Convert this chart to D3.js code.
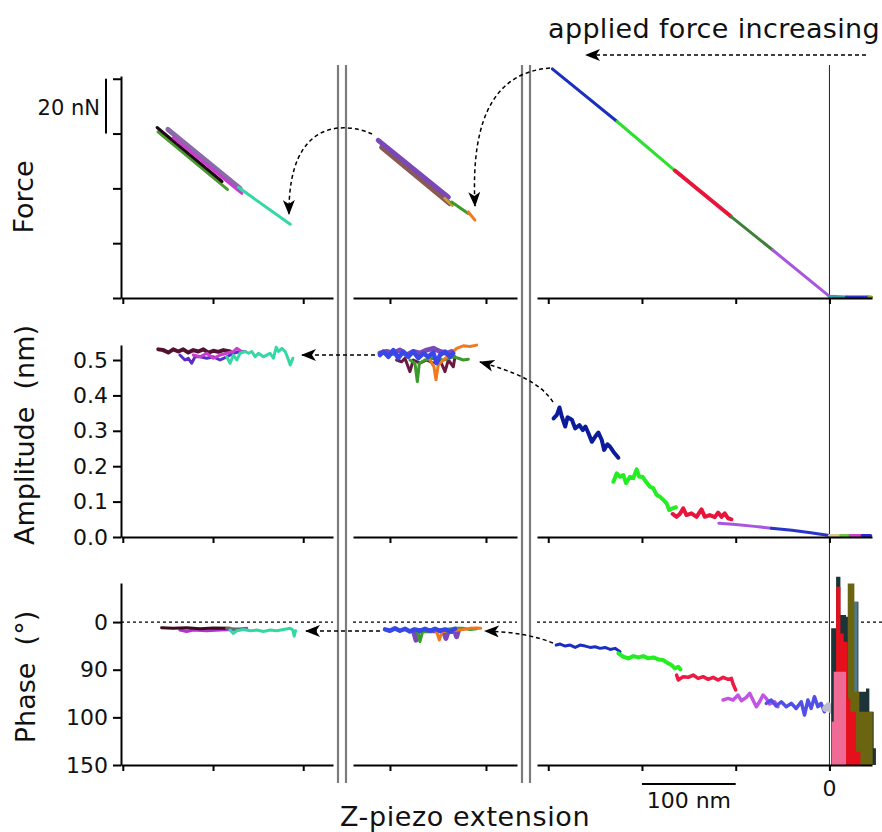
<!DOCTYPE html>
<html>
<head>
<meta charset="utf-8">
<title>Force, amplitude and phase vs Z-piezo extension</title>
<script src="https://cdn.jsdelivr.net/npm/d3@7/dist/d3.min.js"></script>
<style>
  body { margin: 0; background: #fff; }
  svg text { font-family: "DejaVu Sans", sans-serif; fill: #111; }
</style>
</head>
<body>
<svg id="mainsvg" width="882" height="832"></svg>
<script>
// ---------- data : x = Z-piezo extension (nm), three broken-axis panels ----------
const xTicksL = [-2000, -1900, -1800];
const xTicksM = [-1300, -1200];
const xTicksR = [-300, -200, -100, 0];

const forceTicks = [0, 20, 40, 60, 80];             // nN, unlabelled (scale bar = 20 nN)
const ampTicks = [0, 0.1, 0.2, 0.3, 0.4, 0.5];      // nm
const phaseTicks = [0, 50, 100, 150];
const phaseTickLabels = ['0', '90', '100', '150'];

// Force (nN)
const forceL = [
  { k: 'Lgreen', pts: [[-1961, 60.6], [-1884, 39.6]] },
  { k: 'Lblack', pts: [[-1962, 62.2], [-1890, 42.5]] },
  { k: 'Lmauve', pts: [[-1950, 61.5], [-1870, 40.0]] },
  { k: 'Lmagenta', pts: [[-1944, 58.5], [-1868, 38.2]] },
  { k: 'Lteal', pts: [[-1872, 40.4], [-1814.4, 26.9]] }
];
const forceM = [
  { k: 'Mbrown', pts: [[-1308.7, 55.0], [-1237.5, 34.4]] },
  { k: 'Mpurple', pts: [[-1312.2, 57.5], [-1239.2, 36.8]] },
  { k: 'Molive', pts: [[-1243, 36.4], [-1235, 33.8]] },
  { k: 'Mgreen', pts: [[-1235.8, 35.0], [-1218.5, 30.8]] },
  { k: 'Morange', pts: [[-1218.5, 31.4], [-1211.5, 28.4]] }
];
const forceR = [
  { k: 'Rblue', pts: [[-295.7, 83.6], [-226.6, 64.4]] },
  { k: 'Rgreen', pts: [[-226.6, 64.4], [-164.9, 46.5]] },
  { k: 'Rred', pts: [[-164.9, 46.5], [-105.3, 29.8]] },
  { k: 'Rdkgreen', pts: [[-105.3, 29.8], [-60.6, 17.5]] },
  { k: 'Rviolet', pts: [[-60.6, 17.5], [0, 0.6]] },
  { k: 'Rteal', pts: [[0, 0.6], [18, 0.4]] },
  { k: 'Rblue2', pts: [[18, 0.4], [42, 0.4]] },
  { k: 'Rolive', pts: [[42, 0.4], [45, 0.4]] }
];

// Amplitude (nm)
const ampL = [
  { k: 'Lmaroon', pts: [[-1960.7, 0.530], [-1955.2, 0.528], [-1949.6, 0.521], [-1944.1, 0.530], [-1938.5, 0.524], [-1933.0, 0.530], [-1927.4, 0.521], [-1921.9, 0.528], [-1916.3, 0.524], [-1910.7, 0.530], [-1905.2, 0.521], [-1899.6, 0.526], [-1894.1, 0.523], [-1888.5, 0.528], [-1881.1, 0.524]] },
  { k: 'Lpurple', pts: [[-1936.7, 0.514], [-1931.1, 0.500], [-1927.4, 0.505], [-1923.7, 0.491], [-1920.0, 0.509], [-1914.4, 0.509], [-1907.0, 0.505], [-1899.6, 0.509], [-1892.2, 0.500], [-1884.8, 0.509], [-1877.4, 0.519], [-1870.0, 0.524], [-1864.4, 0.524]] },
  { k: 'Lmagenta', pts: [[-1921.9, 0.514], [-1914.4, 0.509], [-1907.0, 0.519], [-1899.6, 0.505], [-1892.2, 0.514], [-1884.8, 0.519], [-1877.4, 0.524], [-1873.7, 0.533], [-1868.1, 0.524]] },
  { k: 'Lteal', pts: [[-1884.8, 0.509], [-1881.1, 0.491], [-1877.4, 0.514], [-1873.7, 0.500], [-1870.0, 0.519], [-1864.4, 0.524], [-1860.7, 0.519], [-1857.0, 0.524], [-1853.3, 0.509], [-1849.6, 0.519], [-1844.1, 0.509], [-1840.4, 0.514], [-1836.7, 0.519], [-1833.0, 0.505], [-1830.0, 0.536], [-1827.4, 0.524], [-1823.7, 0.533], [-1820.0, 0.524], [-1816.3, 0.500], [-1814.4, 0.486], [-1811.5, 0.505]] }
];
const ampM = [
  { k: 'Mmaroon', pts: [[-1293.1, 0.500], [-1287.8, 0.495], [-1284.4, 0.505], [-1279.2, 0.467], [-1275.7, 0.500], [-1268.8, 0.491], [-1261.8, 0.500], [-1254.9, 0.491], [-1247.9, 0.500], [-1242.7, 0.467], [-1239.2, 0.500], [-1234.0, 0.481], [-1232.3, 0.509]] },
  { k: 'Mgreen', pts: [[-1279.2, 0.500], [-1274.0, 0.491], [-1271.5, 0.439], [-1269.4, 0.491], [-1263.5, 0.500], [-1254.9, 0.505], [-1244.4, 0.500], [-1234.0, 0.509], [-1228.8, 0.505], [-1223.6, 0.500], [-1218.4, 0.502]] },
  { k: 'Morange', pts: [[-1258.3, 0.500], [-1254.2, 0.481], [-1252.1, 0.444], [-1249.7, 0.486], [-1244.4, 0.500], [-1235.8, 0.519], [-1230.6, 0.533], [-1223.6, 0.540], [-1216.7, 0.538], [-1209.7, 0.542]] },
  { k: 'Mpurple', pts: [[-1310.4, 0.519], [-1303.5, 0.524], [-1296.5, 0.519], [-1289.6, 0.528], [-1282.6, 0.514], [-1275.7, 0.524], [-1268.8, 0.519], [-1261.8, 0.528], [-1254.9, 0.533], [-1247.9, 0.524], [-1241.0, 0.519], [-1235.8, 0.524]] },
  { k: 'Mblue', pts: [[-1310.4, 0.514], [-1306.9, 0.524], [-1301.7, 0.509], [-1296.5, 0.528], [-1291.3, 0.505], [-1286.1, 0.524], [-1280.9, 0.509], [-1275.7, 0.524], [-1270.5, 0.505], [-1265.3, 0.519], [-1260.1, 0.509], [-1254.9, 0.521], [-1251.4, 0.491], [-1247.9, 0.514], [-1242.7, 0.524], [-1237.5, 0.509], [-1234.0, 0.519]] }
];
const ampR = [
  { k: 'Rnavy', pts: [[-294.3, 0.335], [-290.8, 0.345], [-288.0, 0.366], [-285.5, 0.340], [-281.9, 0.312], [-279.4, 0.338], [-274.8, 0.331], [-271.3, 0.307], [-266.7, 0.316], [-263.1, 0.302], [-260.3, 0.312], [-257.1, 0.293], [-253.5, 0.269], [-250.0, 0.283], [-246.5, 0.295], [-242.9, 0.274], [-240.4, 0.246], [-236.9, 0.262], [-234.0, 0.255], [-230.5, 0.241], [-225.2, 0.224]] },
  { k: 'Rlime', pts: [[-230.5, 0.156], [-226.9, 0.180], [-223.4, 0.170], [-219.9, 0.175], [-217.0, 0.152], [-212.8, 0.170], [-209.3, 0.166], [-205.7, 0.191], [-202.9, 0.170], [-199.3, 0.170], [-195.7, 0.156], [-191.5, 0.142], [-188.0, 0.138], [-184.4, 0.119], [-180.9, 0.114], [-177.3, 0.105], [-173.7, 0.095], [-171.0, 0.076], [-167.3, 0.081], [-163.8, 0.084]] },
  { k: 'Rred', pts: [[-167.3, 0.065], [-163.1, 0.057], [-159.6, 0.065], [-156.0, 0.081], [-152.5, 0.062], [-147.2, 0.067], [-141.8, 0.057], [-136.5, 0.078], [-133.0, 0.057], [-127.7, 0.062], [-122.3, 0.056], [-118.8, 0.069], [-115.2, 0.057], [-111.7, 0.067], [-108.2, 0.053], [-104.6, 0.050]] },
  { k: 'Rviolet', pts: [[-118, 0.039], [-100, 0.035], [-80, 0.030], [-62, 0.025]] },
  { k: 'Rblue2', pts: [[-62, 0.025], [-40, 0.019], [-20, 0.012], [0, 0.004]] },
  { k: 'Rtan', pts: [[0, 0.004], [12, 0.004]] },
  { k: 'Rgreen2', pts: [[12, 0.004], [22, 0.004]] },
  { k: 'Rmagenta', pts: [[22, 0.004], [35, 0.004]] },
  { k: 'Rblue3', pts: [[35, 0.004], [44, 0.004]] }
];

// Phase (deg)
const phaseL = [
  { k: 'Lpurple2', pts: [[-1936.7, 8.4], [-1929.3, 9.8], [-1921.9, 8.4], [-1907.0, 9.1], [-1892.2, 8.4], [-1877.4, 7.7], [-1862.6, 6.6]] },
  { k: 'Lmaroon2', pts: [[-1957.0, 5.9], [-1944.1, 6.6], [-1929.3, 5.9], [-1914.4, 7.0], [-1899.6, 6.3], [-1881.1, 6.6]] },
  { k: 'Lgrey', pts: [[-1884.8, 6.6], [-1870.0, 7.7]] },
  { k: 'Lteal', pts: [[-1881.1, 8.4], [-1877.4, 11.9], [-1873.7, 9.1], [-1866.3, 7.7], [-1858.9, 9.1], [-1851.5, 8.4], [-1844.1, 9.8], [-1836.7, 8.4], [-1829.3, 9.1], [-1821.9, 7.7], [-1814.4, 6.6], [-1811.5, 8.4], [-1810.0, 14.7], [-1808.5, 9.1]] }
];
const phaseM = [
  { k: 'Mpurple', pts: [[-1275.7, 8.4], [-1272.9, 18.9], [-1270.5, 9.1], [-1244.4, 9.1], [-1241.7, 17.1], [-1239.2, 9.1], [-1232.3, 10.1], [-1230.6, 15.4], [-1228.8, 9.1]] },
  { k: 'Mgreen', pts: [[-1271.5, 10.1], [-1268.8, 20.6], [-1266.0, 10.1], [-1230.6, 6.6], [-1223.6, 6.6], [-1216.7, 7.7], [-1209.7, 7.0]] },
  { k: 'Morange', pts: [[-1251.4, 10.1], [-1248.6, 18.9], [-1245.8, 10.1], [-1223.6, 7.7], [-1216.7, 6.6], [-1209.7, 6.3], [-1205.6, 6.6]] },
  { k: 'Mblue', pts: [[-1305.2, 7.7], [-1300.0, 9.1], [-1294.8, 6.6], [-1289.6, 9.1], [-1284.4, 7.0], [-1279.2, 9.8], [-1274.0, 7.7], [-1268.8, 9.1], [-1263.5, 7.0], [-1258.3, 9.1], [-1253.1, 7.0], [-1247.9, 9.1], [-1242.7, 7.7], [-1237.5, 9.8], [-1232.3, 7.0]] }
];
const phaseR = [
  { k: 'Rblue', pts: [[-291.5, 24.1], [-287.2, 23.1], [-281.9, 25.2], [-276.6, 24.1], [-271.3, 26.6], [-266.0, 24.1], [-260.6, 25.2], [-255.3, 26.6], [-250.0, 25.9], [-244.7, 27.6], [-239.4, 26.6], [-234.0, 28.7], [-228.7, 27.6], [-223.4, 31.1]] },
  { k: 'Rlime', pts: [[-225.2, 32.9], [-219.9, 36.4], [-214.5, 38.1], [-209.2, 35.7], [-203.9, 37.1], [-198.6, 35.7], [-193.3, 38.1], [-187.9, 37.1], [-182.6, 39.2], [-177.3, 39.9], [-172.0, 43.4], [-168.4, 45.1], [-164.9, 48.6], [-161.3, 46.9], [-158.9, 49.7]] },
  { k: 'Rred2', pts: [[-163.1, 55.6], [-161.3, 60.8], [-156.0, 57.3], [-150.7, 58.0], [-145.4, 55.6], [-140.1, 59.1], [-134.8, 57.3], [-129.4, 60.1], [-124.1, 58.0], [-118.8, 60.8], [-113.5, 58.0], [-108.2, 60.1], [-104.6, 59.1], [-102.8, 65.0], [-100.0, 71.3]] },
  { k: 'Rviolet2', pts: [[-113.5, 81.8], [-108.2, 80.1], [-102.8, 81.8], [-97.5, 76.6], [-94.0, 82.5], [-88.7, 79.0], [-85.1, 74.8], [-81.6, 81.8], [-78.0, 88.8], [-74.5, 83.6], [-70.9, 76.6], [-67.4, 80.1], [-63.8, 86.0], [-58.5, 83.6], [-55.0, 88.8]] },
  { k: 'Rblue4', pts: [[-67.4, 85.3], [-62.1, 81.8], [-56.7, 88.1], [-51.4, 83.6], [-46.1, 88.8], [-40.8, 85.3], [-35.5, 90.6], [-30.1, 83.6], [-26.6, 97.6], [-23.0, 81.8], [-19.5, 90.6], [-16.0, 78.3], [-12.4, 88.8], [-8.9, 85.3], [-5.3, 94.1]] },
  { k: 'Rgrey', pts: [[-4.0, 90.6], [-1.0, 88.0], [2.0, 92.0], [6.0, 95.0]] }
];
// stepped phase traces past contact (deg, filled down to 150)
const phaseFill = [
  { k: 'Fdark', pts: [[1.8, 6.6], [7.1, -47.6], [11.7, -7.3], [17.7, -5.6], [26.6, -21.3], [30.9, 73.1], [39.0, 69.6], [42.6, 94.1], [47.2, 132.5], [49.6, 132.5]] },
  { k: 'Fslate', pts: [[25.9, -21.3], [30.1, -21.3]] },
  { k: 'Folive', pts: [[19.5, -40.6], [26.6, 73.1], [31.9, 94.1], [46.1, 94.1]] },
  { k: 'Fred', pts: [[1.8, 104.5], [7.1, -37.1], [11.7, 11.9], [15.2, 20.6], [19.5, 80.1], [22.3, 94.1], [28.4, 136], [33.0, 136]] },
  { k: 'Fpink', pts: [[2.5, 104.5], [4.6, 52.1], [17.7, 52.1]] }
];

// ---------- styles ----------
const colors = {
  Lgreen: '#4a9a30', Lblack: '#1e0a12', Lmauve: '#8a6aa8', Lmagenta: '#c83cd0', Lteal: '#34d8a4',
  Lmaroon: '#541030', Lpurple: '#5a2ec4', Lpurple2: '#b035c8', Lmaroon2: '#3e0c20', Lgrey: '#6a6a6a',
  Mbrown: '#8a5a50', Mpurple: '#7a48b8', Molive: '#c8a030', Mgreen: '#3a9a2a', Morange: '#f07a20',
  Mmaroon: '#6a1a40', Mblue: '#3848e8',
  Rblue: '#1a2fc0', Rgreen: '#2ee02e', Rred: '#e8143a', Rdkgreen: '#3f7f3a', Rviolet: '#a855e0',
  Rteal: '#3a9aa8', Rblue2: '#2a34c8', Rolive: '#8a9a30',
  Rnavy: '#0c1a9c', Rlime: '#22ee22', Rtan: '#d8c890', Rgreen2: '#66cc44', Rmagenta: '#c848c8', Rblue3: '#2a2ad0',
  Rred2: '#ee1a44', Rviolet2: '#c055e5', Rblue4: '#5050e8', Rgrey: '#bcbccc',
  Fdark: '#1c3438', Folive: '#6b6512', Fslate: '#4f7a8e', Fred: '#e6101c', Fpink: '#f06a96'
};
const widths = { Lmauve: 5, Mpurple: 5, Mbrown: 5, Mblue: 4.5, Lmaroon: 4, Rnavy: 4, Rlime: 4, Rred: 4, Rred2: 3.5, Rviolet2: 3.5, Rblue4: 3.5, Rgrey: 7 };

// ---------- layout ----------
const panels = {
  L: { px: [121, 333], dom: [-2002, -1767], ticks: xTicksL },
  M: { px: [353, 517], dom: [-1338.5, -1167.7], ticks: xTicksM },
  R: { px: [537, 872], dom: [-312, 45.4], ticks: xTicksR }
};
const rows = {
  force: { px: [298, 76], dom: [0, 81] },
  amp: { px: [537, 345], dom: [0, 0.5424] },
  phase: { px: [583, 765], dom: [-41, 150] }
};
const breaks = [338, 346, 522, 530];

const svg = d3.select('#mainsvg');
const xs = {};
Object.entries(panels).forEach(([k, p]) => { xs[k] = d3.scaleLinear().domain(p.dom).range(p.px); });
const ys = {};
Object.entries(rows).forEach(([k, r]) => { ys[k] = d3.scaleLinear().domain(r.dom).range(r.px); });

const defs = svg.append('defs');
defs.append('marker').attr('id', 'head')
  .attr('viewBox', '0 -6 15 12').attr('refX', 14).attr('refY', 0)
  .attr('markerWidth', 15).attr('markerHeight', 12)
  .attr('markerUnits', 'userSpaceOnUse').attr('orient', 'auto')
  .append('path').attr('d', 'M0,-6 L15,0 L0,6 L4,0 Z').attr('fill', '#000');

// break lines + zero-extension line
const deco = svg.append('g');
breaks.forEach(bx => {
  deco.append('line').attr('x1', bx).attr('x2', bx).attr('y1', 65).attr('y2', 783)
    .attr('stroke', '#7c7c7c').attr('stroke-width', 2.2);
});
deco.append('line')
  .attr('x1', xs.R(0)).attr('x2', xs.R(0)).attr('y1', 65).attr('y2', 770)
  .attr('stroke', '#222').attr('stroke-width', 1);

// phase zero dotted line
Object.keys(panels).forEach(p => {
  const x1 = p === 'R' ? 882 : panels[p].px[1];
  deco.append('line').attr('x1', panels[p].px[0]).attr('x2', x1)
    .attr('y1', ys.phase(0)).attr('y2', ys.phase(0))
    .attr('stroke', '#000').attr('stroke-width', 1.2).attr('stroke-dasharray', '3,3');
});

// data lines
const plotG = svg.append('g');
function drawSeries(list, panel, row) {
  const line = d3.line().x(d => xs[panel](d[0])).y(d => ys[row](d[1]));
  plotG.append('g').selectAll('path').data(list).join('path')
    .attr('d', d => line(d.pts))
    .attr('fill', 'none')
    .attr('stroke', d => colors[d.k])
    .attr('stroke-width', d => widths[d.k] || 3)
    .attr('stroke-linejoin', 'round')
    .attr('stroke-linecap', 'round');
}
drawSeries(forceL, 'L', 'force');
drawSeries(forceM, 'M', 'force');
drawSeries(forceR, 'R', 'force');
drawSeries(ampL, 'L', 'amp');
drawSeries(ampM, 'M', 'amp');
drawSeries(ampR, 'R', 'amp');
drawSeries(phaseL, 'L', 'phase');
drawSeries(phaseM, 'M', 'phase');
drawSeries(phaseR, 'R', 'phase');

const area = d3.area().curve(d3.curveStepAfter)
  .x(d => xs.R(d[0])).y0(ys.phase(150)).y1(d => ys.phase(d[1]));
plotG.append('g').selectAll('path').data(phaseFill).join('path')
  .attr('d', d => area(d.pts))
  .attr('fill', d => colors[d.k]);

// axes
const axG = svg.append('g');
Object.keys(rows).forEach(r => {
  Object.keys(panels).forEach(p => {
    const g = axG.append('g')
      .attr('transform', `translate(0, ${rows[r].px[r === 'phase' ? 1 : 0]})`)
      .call(d3.axisBottom(xs[p]).tickValues(panels[p].ticks).tickSize(6).tickSizeOuter(0).tickFormat(''));
    g.selectAll('path, line').attr('stroke', '#000').attr('stroke-width', 2);
  });
});
const yAxes = {
  force: d3.axisLeft(ys.force).tickValues(forceTicks).tickFormat(''),
  amp: d3.axisLeft(ys.amp).tickValues(ampTicks).tickFormat(d3.format('.1f')),
  phase: d3.axisLeft(ys.phase).tickValues(phaseTicks).tickFormat((d, i) => phaseTickLabels[i])
};
Object.entries(yAxes).forEach(([r, ax]) => {
  const g = axG.append('g').attr('transform', `translate(${panels.L.px[0]}, 0)`)
    .call(ax.tickSize(8).tickSizeOuter(0).tickPadding(5));
  g.selectAll('path, line').attr('stroke', '#000').attr('stroke-width', 2);
  g.selectAll('text').attr('font-size', 22).attr('font-family', '"DejaVu Sans", sans-serif').attr('fill', '#111');
});

// dashed arrows (annotation)
const arrows = [
  'M866,55 L586,55',
  'M372,134 C345,122 288,118 289,214',
  'M550,68 C500,72 470,110 475,206',
  'M375,355 L302,355',
  'M553,402 C540,382 515,372 480,362',
  'M380,631 L306,631',
  'M553,643 C535,636 515,632 485,631'
];
svg.append('g').selectAll('path').data(arrows).join('path')
  .attr('d', d => d).attr('fill', 'none')
  .attr('stroke', '#000').attr('stroke-width', 1.5).attr('stroke-dasharray', '4,3')
  .attr('marker-end', 'url(#head)');

// labels
const tg = svg.append('g');
tg.append('text').attr('x', 548).attr('y', 38).attr('font-size', 27).attr('letter-spacing', 0.35).text('applied force increasing');
tg.append('text').attr('transform', 'translate(33,197) rotate(-90)').attr('text-anchor', 'middle').attr('font-size', 27).text('Force');
tg.append('text').attr('transform', 'translate(34,435) rotate(-90)').attr('text-anchor', 'middle').attr('font-size', 27).attr('xml:space', 'preserve').text('Amplitude  (nm)');
tg.append('text').attr('transform', 'translate(35,677) rotate(-90)').attr('text-anchor', 'middle').attr('font-size', 27).attr('xml:space', 'preserve').text('Phase  (°)');
tg.append('text').attr('x', 340).attr('y', 826).attr('font-size', 27).attr('letter-spacing', 0.6).text('Z-piezo extension');

// 20 nN scale bar
tg.append('line').attr('x1', 106).attr('x2', 106).attr('y1', ys.force(80)).attr('y2', ys.force(60))
  .attr('stroke', '#000').attr('stroke-width', 2);
tg.append('text').attr('x', 100).attr('y', 115).attr('text-anchor', 'end').attr('font-size', 21).text('20 nN');

// 100 nm scale bar
tg.append('line').attr('x1', xs.R(-200)).attr('x2', xs.R(-100)).attr('y1', 784).attr('y2', 784)
  .attr('stroke', '#000').attr('stroke-width', 2);
tg.append('text').attr('x', (xs.R(-200) + xs.R(-100)) / 2).attr('y', 808).attr('text-anchor', 'middle').attr('font-size', 22).text('100 nm');
tg.append('text').attr('x', xs.R(0)).attr('y', 796).attr('text-anchor', 'middle').attr('font-size', 22).text('0');
</script>
</body>
</html>
